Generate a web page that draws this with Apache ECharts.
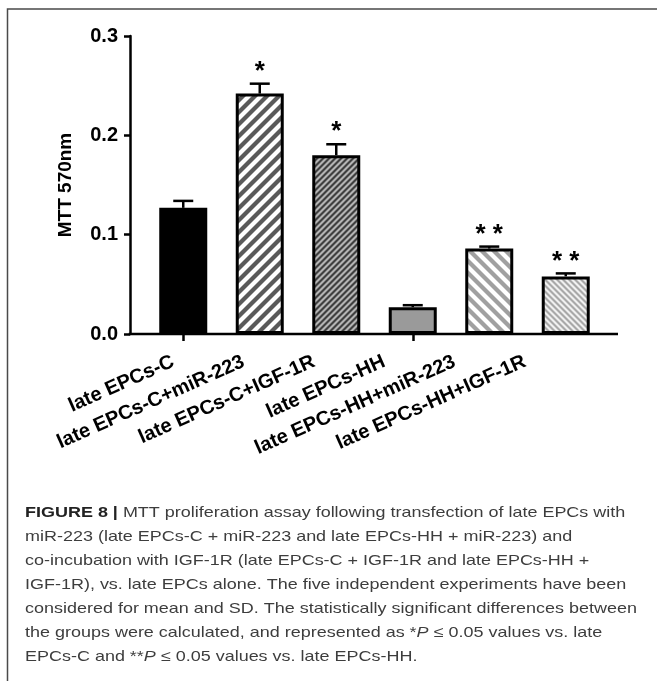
<!DOCTYPE html>
<html><head><meta charset="utf-8">
<script src="https://cdn.jsdelivr.net/npm/echarts@6/dist/echarts.min.js"></script>
<style>html,body{margin:0;padding:0;background:#fff}#c{width:657px;height:681px}</style>
</head><body><div id="c"></div>
<script>
// ---- data ----
const categories = ['late EPCs-C','late EPCs-C+miR-223','late EPCs-C+IGF-1R','late EPCs-HH','late EPCs-HH+miR-223','late EPCs-HH+IGF-1R'];
const means = [0.127, 0.242, 0.180, 0.027, 0.086, 0.058];
const sds = [0.007, 0.010, 0.011, 0.002, 0.002, 0.003];
const sigMarks = ['', '*', '*', '', '**', '**'];
const yTicks = [0.0, 0.1, 0.2, 0.3];
const captionLines = [
  '{b|FIGURE 8 |} MTT proliferation assay following transfection of late EPCs with',
  'miR-223 (late EPCs-C + miR-223 and late EPCs-HH + miR-223) and',
  'co-incubation with IGF-1R (late EPCs-C + IGF-1R and late EPCs-HH +',
  'IGF-1R), vs. late EPCs alone. The five independent experiments have been',
  'considered for mean and SD. The statistically significant differences between',
  'the groups were calculated, and represented as *{i|P} ≤ 0.05 values vs. late',
  'EPCs-C and **{i|P} ≤ 0.05 values vs. late EPCs-HH.'
];

// ---- patterns ----
function stripes(period, fg, bg, dir) {
  const N = period * 4;
  const c = document.createElement('canvas');
  c.width = N; c.height = N;
  const g = c.getContext('2d');
  g.fillStyle = bg; g.fillRect(0, 0, N, N);
  g.fillStyle = fg;
  const w = period / 2;
  for (let o = -2 * N; o <= 2 * N; o += period) {
    g.beginPath();
    if (dir === '/') {
      g.moveTo(o, N); g.lineTo(o + w, N); g.lineTo(o + w + N, 0); g.lineTo(o + N, 0);
    } else {
      g.moveTo(o, 0); g.lineTo(o + w, 0); g.lineTo(o + w + N, N); g.lineTo(o + N, N);
    }
    g.closePath(); g.fill();
  }
  return { image: c, repeat: 'repeat' };
}
const fills = [
  '#000000',
  stripes(12, '#5a5a5a', '#ffffff', '/'),
  stripes(6, '#3f3f3f', '#b4b4b4', '/'),
  '#9a9a9a',
  stripes(12, '#a0a0a0', '#ffffff', '\\'),
  stripes(6, '#a8a8a8', '#f0f0f0', '\\')
];

const chart = echarts.init(document.getElementById('c'), null, { renderer: 'canvas' });
const F = 'Liberation Sans, Arial, sans-serif';

// caption font sizing: keep glyph height, stretch width to match the reference line length
const capFs = 15;
const mc = document.createElement('canvas').getContext('2d');
mc.font = capFs + 'px "Liberation Sans"';
const capW = mc.measureText('considered for mean and SD. The statistically significant differences between').width;
const capScale = 612 / capW;

const caption = captionLines.map((t, i) => ({
  type: 'text', x: 25, y: 513 + i * 24, scaleX: capScale, z: 10,
  style: {
    text: t, font: capFs + 'px ' + F, fill: '#3d3d3d', textVerticalAlign: 'middle',
    rich: {
      b: { fontWeight: 'bold', fontSize: capFs, fontFamily: F, fill: '#222' },
      i: { fontStyle: 'italic', fontSize: capFs, fontFamily: F, fill: '#3d3d3d' }
    }
  }
}));

function errItem(params, api) {
  const i = api.value(0), m = api.value(1), s = api.value(2);
  const b = api.coord([i, m]), t = api.coord([i, m + s]);
  const hw = 10;
  const st = { stroke: '#000', lineWidth: 2.5 };
  const children = [
    { type: 'line', shape: { x1: b[0], y1: b[1], x2: t[0], y2: t[1] }, style: st },
    { type: 'line', shape: { x1: t[0] - hw, y1: t[1], x2: t[0] + hw, y2: t[1] }, style: st }
  ];
  const mark = sigMarks[params.dataIndex];
  if (mark) {
    children.push({ type: 'text', x: t[0], y: t[1] + 1, style: {
      text: mark.split('').join(' '), font: 'bold 26px ' + F, fill: '#000',
      textAlign: 'center', textVerticalAlign: 'bottom' } });
  }
  return { type: 'group', children };
}

const frame = { type: 'polyline', z: 10, shape: { points: [[7.5, 681], [7.5, 9], [657, 9]] },
  style: { stroke: '#4a4a4a', lineWidth: 1.5, fill: null } };

chart.setOption({
  animation: false,
  backgroundColor: '#fff',
  grid: [
    { left: 145, right: 53, top: 36, bottom: 347, containLabel: false },
    // label band: the rotated category labels sit slightly tighter than the bars
    { left: 149, right: 86, top: 36, bottom: 347, containLabel: false }
  ],
  xAxis: [{
    type: 'category', data: categories, gridIndex: 0,
    axisLine: { show: false },
    axisTick: { show: true, alignWithLabel: true, length: 7, lineStyle: { color: '#000', width: 2.5 } },
    axisLabel: { show: false }
  }, {
    type: 'category', data: categories, gridIndex: 1,
    axisLine: { show: false }, axisTick: { show: false },
    axisLabel: { rotate: 24, margin: 22, interval: 0, color: '#000', fontWeight: 'bold', fontSize: 20, fontFamily: F,
      padding: [0, 12, 0, 0] }
  }],
  yAxis: [{
    type: 'value', min: 0, max: 0.3, interval: 0.1, offset: 15, gridIndex: 0,
    name: 'MTT 570nm', nameLocation: 'middle', nameGap: 55, nameRotate: 90,
    nameTextStyle: { color: '#000', fontWeight: 'bold', fontSize: 19, fontFamily: F },
    axisLine: { show: true, lineStyle: { color: '#000', width: 2.5 } },
    axisTick: { show: true, length: 6, lineStyle: { color: '#000', width: 2.5 } },
    splitLine: { show: false },
    axisLabel: { color: '#000', fontWeight: 'bold', fontSize: 20, fontFamily: F, margin: 12,
      formatter: v => v.toFixed(1) }
  }, {
    type: 'value', min: 0, max: 0.3, gridIndex: 1, show: false
  }],
  series: [
    { type: 'bar', barWidth: 48, xAxisIndex: 0, yAxisIndex: 0,
      data: means.map((v, i) => ({ value: v, itemStyle: { color: fills[i], borderColor: '#000', borderWidth: 3 } })),
      z: 2 },
    { type: 'custom', renderItem: errItem, z: 3, xAxisIndex: 0, yAxisIndex: 0,
      data: means.map((v, i) => [i, v, sds[i]]) }
  ],
  graphic: caption.concat([frame])
});

// x axis line spanning from the y axis to the right end
const y0 = chart.convertToPixel({ yAxisIndex: 0 }, 0);
const gridLeft = chart.convertToPixel({ xAxisIndex: 0 }, 0) - 38.25;
chart.setOption({
  graphic: caption.concat([frame,
    { type: 'line', z: 5, shape: { x1: gridLeft - 16.25, y1: y0, x2: 618, y2: y0 },
      style: { stroke: '#000', lineWidth: 2.5 } }
  ])
}, { replaceMerge: ['graphic'] });
</script></body></html>
